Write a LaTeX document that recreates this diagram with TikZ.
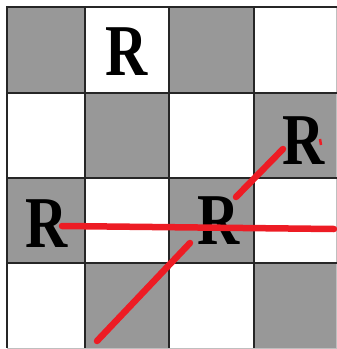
\documentclass[tikz,border=0pt]{standalone}
\usepackage{fontspec}
\newfontfamily\rookfont{Liberation Serif}
\usetikzlibrary{positioning}
\definecolor{cbgray}{RGB}{152,152,152}
\definecolor{cbred}{RGB}{237,28,36}
\tikzset{
  cbdark/.style ={fill=cbgray},
  cbgrid/.style ={draw=black!85, line width=1.6pt},
  cbrook/.style ={inner sep=0pt, font=\rookfont\bfseries\fontsize{73}{73}\selectfont, xscale=0.8},
  cbmove/.style ={draw=cbred, line width=6.5pt, line cap=round},
}
\begin{document}
\begin{tikzpicture}[x=1pt, y=-1pt]
        \useasboundingbox (0,0) rectangle (337,349);
        \fill[white] (0,0) rectangle (337,349);
        % dark squares
        \fill[cbdark] (7,7) rectangle (85,93);
        \fill[cbdark] (169,7) rectangle (254,93);
        \fill[cbdark] (85,93) rectangle (169,178);
        \fill[cbdark] (254,93) rectangle (337,178);
        \fill[cbdark] (7,178) rectangle (85,263);
        \fill[cbdark] (169,178) rectangle (254,263);
        \fill[cbdark] (85,263) rectangle (169,349);
        \fill[cbdark] (254,263) rectangle (337,349);
        % grid
        \draw[draw=black!25, line width=0.8pt] (336.6,7) -- (336.6,348) -- (7,348);
        \foreach \x in {7,85,169,254}
          \draw[cbgrid] (\x,6) -- (\x,348);
        \foreach \y in {7,93,178,263}
          \draw[cbgrid] (6,\y) -- (337,\y);
        % moves
        \coordinate (h1) at (62,226);
        \coordinate (h2) at (334,229);
        \coordinate (d1) at (283,149);
        \coordinate (d2) at (236,197);
        \coordinate (d3) at (190,243);
        \coordinate (d4) at (97,341);
        \coordinate (t1) at (320,139);
        \coordinate (t2) at (321,145);
        \draw[cbmove] (d1) -- (d2);
        \draw[cbmove] (d3) -- (d4);
        \draw[draw=cbred, line width=2.5pt] (t1) -- (t2);
        % rooks
        \node[cbrook] (ra) at (127,52) {R};
        \node[cbrook] (rb) at (304,141) {R};
        \node[cbrook] (rc) at (47,224) {R};
        \node[cbrook] (rd) at (219,221) {R};
        \draw[cbmove] (h1) -- (h2);
    \end{tikzpicture}
\end{document}
